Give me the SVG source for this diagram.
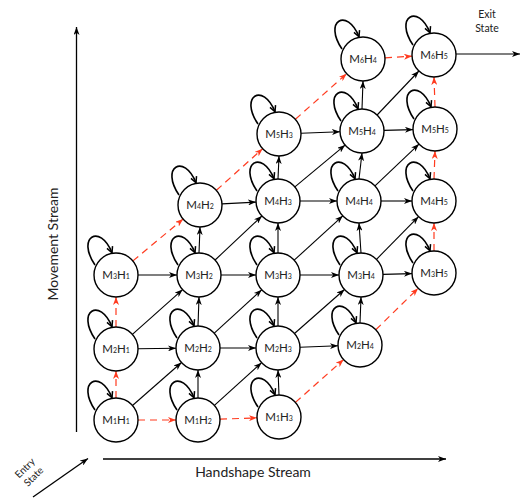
<svg xmlns="http://www.w3.org/2000/svg" width="523" height="498" viewBox="0 0 523 498">
  <style>
    .node circle { fill: #fff; stroke: #000; stroke-width: 1.4; }
    .node text { font-family: Lato, "Liberation Sans", sans-serif; font-size: 11.5px; fill: #222; text-anchor: middle; }
    .node .s { font-size: 7px; }
    .loop { fill: none; stroke: #000; stroke-width: 1.6; marker-end: url(#loopHead); }
    .e { fill: none; stroke: #000; stroke-width: 1.1; marker-end: url(#head); }
    .r { fill: none; stroke: #ff3b1f; stroke-width: 1.2; stroke-dasharray: 7 5; marker-end: url(#headRed); }
    .axis { fill: none; stroke: #000; stroke-width: 1.3; marker-end: url(#head); }
    .lbl { font-family: Lato, "Liberation Sans", sans-serif; fill: #222; text-anchor: middle; }
  </style>
  <defs>
    <marker id="head" viewBox="0 0 8 6" refX="8" refY="3" markerWidth="8" markerHeight="6" markerUnits="userSpaceOnUse" orient="auto">
      <path d="M0,0 L8,3 L0,6 L2.2,3 z" fill="#000"/>
    </marker>
    <marker id="headRed" viewBox="0 0 8 6" refX="8" refY="3" markerWidth="8" markerHeight="6" markerUnits="userSpaceOnUse" orient="auto">
      <path d="M0,0 L8,3 L0,6 L2.2,3 z" fill="#ff3b1f"/>
    </marker>
    <marker id="loopHead" viewBox="0 0 8 8" refX="7" refY="4" markerWidth="8" markerHeight="8" markerUnits="userSpaceOnUse" orient="auto">
      <path d="M1,1 L7,4 L1,7" fill="none" stroke="#000" stroke-width="1.5"/>
    </marker>
  </defs>

  <!-- axes -->
  <g id="axes">
    <path class="axis" d="M76.5,432 L76.5,27"/>
    <path class="axis" d="M103,459 L446,459"/>
    <path class="axis" d="M33,497 L88,458.5"/>
    <text class="lbl" font-size="14" transform="translate(58,244) rotate(-90)">Movement Stream</text>
    <text class="lbl" font-size="14" x="253" y="477">Handshape Stream</text>
    <g transform="translate(29.2,472.3) rotate(-45)">
      <text class="lbl" font-size="10" x="0" y="-2.5">Entry</text>
      <text class="lbl" font-size="10" x="0" y="9.5">State</text>
    </g>
    <text class="lbl" font-size="10.5" x="487" y="18.3">Exit</text>
    <text class="lbl" font-size="10.5" x="487" y="32.3">State</text>
  </g>

  <!-- transitions -->
  <g id="connectors">
    <!-- horizontal -->
    <path class="e" d="M138,348.7 L176,348.3"/>
    <path class="e" d="M220,348 L256,348"/>
    <path class="e" d="M300,347.2 L338,345.8"/>
    <path class="e" d="M138,275 L177,275"/>
    <path class="e" d="M221,275 L256,275"/>
    <path class="e" d="M300,275 L339,275"/>
    <path class="e" d="M383,274.4 L412,273.6"/>
    <path class="e" d="M222,203.9 L256,202.1"/>
    <path class="e" d="M300,201 L337,201"/>
    <path class="e" d="M381,201 L412,201"/>
    <path class="e" d="M301,133.2 L340,131.8"/>
    <path class="e" d="M384,130.4 L413,129.6"/>
    <path class="e" d="M456,54 L520,54"/>
    <!-- vertical -->
    <path class="e" d="M198,398 L198,370"/>
    <path class="e" d="M279,395 L278,370"/>
    <path class="e" d="M198,326 L199,297"/>
    <path class="e" d="M278,326 L278,297"/>
    <path class="e" d="M360,323 L361,297"/>
    <path class="e" d="M199,253 L200,227"/>
    <path class="e" d="M278,253 L278,223"/>
    <path class="e" d="M361,253 L359,223"/>
    <path class="e" d="M278,179 L279,156"/>
    <path class="e" d="M359,179 L362,153"/>
    <path class="e" d="M362,109 L363,81"/>
    <!-- diagonal -->
    <path class="e" d="M132.5,405.5 L181.5,362.5"/>
    <path class="e" d="M214.4,405.3 L261.6,362.7"/>
    <path class="e" d="M132.4,334.4 L182.6,289.6"/>
    <path class="e" d="M214.3,333.2 L261.7,289.8"/>
    <path class="e" d="M294.5,333.5 L344.5,289.5"/>
    <path class="e" d="M215.1,260 L261.9,216"/>
    <path class="e" d="M294.2,260.2 L342.8,215.8"/>
    <path class="e" d="M376.5,259.3 L418.5,216.7"/>
    <path class="e" d="M294.9,186.9 L345.1,145.1"/>
    <path class="e" d="M375,185.9 L419,144.1"/>
    <path class="e" d="M377.1,115 L418.9,71"/>
    <!-- boundary path (dashed) -->
    <path class="r" d="M138,420 L176,420"/>
    <path class="r" d="M220,419.2 L257,417.8"/>
    <path class="r" d="M295.4,402.4 L343.6,359.6"/>
    <path class="r" d="M375.8,329.7 L418.2,288.3"/>
    <path class="r" d="M434,251 L434,223"/>
    <path class="r" d="M434,179 L435,151"/>
    <path class="r" d="M435,107 L434,77"/>
    <path class="r" d="M116,398 L116,371"/>
    <path class="r" d="M116,327 L116,297"/>
    <path class="r" d="M132.9,260.9 L183.1,219.1"/>
    <path class="r" d="M216.4,190.3 L262.6,148.7"/>
    <path class="r" d="M295.4,119.3 L346.6,73.7"/>
    <path class="r" d="M385,57.8 L412,56.2"/>
  </g>

  <!-- states; each carries its own self-transition loop -->
  <defs>
    <path id="selfLoop" class="loop" d="M-21,-10 C-40,-38 -16,-52 -4,-22.2"/>
  </defs>
  <g id="M1H1" class="node" transform="translate(116,420)"><use href="#selfLoop"/><circle r="22"/><text y="4">M<tspan class="s">1</tspan>H<tspan class="s">1</tspan></text></g>
  <g id="M1H2" class="node" transform="translate(198,420)"><use href="#selfLoop"/><circle r="22"/><text y="4">M<tspan class="s">1</tspan>H<tspan class="s">2</tspan></text></g>
  <g id="M1H3" class="node" transform="translate(279,417)"><use href="#selfLoop"/><circle r="22"/><text y="4">M<tspan class="s">1</tspan>H<tspan class="s">3</tspan></text></g>

  <g id="M2H1" class="node" transform="translate(116,349)"><use href="#selfLoop"/><circle r="22"/><text y="4">M<tspan class="s">2</tspan>H<tspan class="s">1</tspan></text></g>
  <g id="M2H2" class="node" transform="translate(198,348)"><use href="#selfLoop"/><circle r="22"/><text y="4">M<tspan class="s">2</tspan>H<tspan class="s">2</tspan></text></g>
  <g id="M2H3" class="node" transform="translate(278,348)"><use href="#selfLoop"/><circle r="22"/><text y="4">M<tspan class="s">2</tspan>H<tspan class="s">3</tspan></text></g>
  <g id="M2H4" class="node" transform="translate(360,345)"><use href="#selfLoop"/><circle r="22"/><text y="4">M<tspan class="s">2</tspan>H<tspan class="s">4</tspan></text></g>

  <g id="M3H1" class="node" transform="translate(116,275)"><use href="#selfLoop"/><circle r="22"/><text y="4">M<tspan class="s">3</tspan>H<tspan class="s">1</tspan></text></g>
  <g id="M3H2" class="node" transform="translate(199,275)"><use href="#selfLoop"/><circle r="22"/><text y="4">M<tspan class="s">3</tspan>H<tspan class="s">2</tspan></text></g>
  <g id="M3H3" class="node" transform="translate(278,275)"><use href="#selfLoop"/><circle r="22"/><text y="4">M<tspan class="s">3</tspan>H<tspan class="s">3</tspan></text></g>
  <g id="M3H4" class="node" transform="translate(361,275)"><use href="#selfLoop"/><circle r="22"/><text y="4">M<tspan class="s">3</tspan>H<tspan class="s">4</tspan></text></g>
  <g id="M3H5" class="node" transform="translate(434,273)"><use href="#selfLoop"/><circle r="22"/><text y="4">M<tspan class="s">3</tspan>H<tspan class="s">5</tspan></text></g>

  <g id="M4H2" class="node" transform="translate(200,205)"><use href="#selfLoop"/><circle r="22"/><text y="4">M<tspan class="s">4</tspan>H<tspan class="s">2</tspan></text></g>
  <g id="M4H3" class="node" transform="translate(278,201)"><use href="#selfLoop"/><circle r="22"/><text y="4">M<tspan class="s">4</tspan>H<tspan class="s">3</tspan></text></g>
  <g id="M4H4" class="node" transform="translate(359,201)"><use href="#selfLoop"/><circle r="22"/><text y="4">M<tspan class="s">4</tspan>H<tspan class="s">4</tspan></text></g>
  <g id="M4H5" class="node" transform="translate(434,201)"><use href="#selfLoop"/><circle r="22"/><text y="4">M<tspan class="s">4</tspan>H<tspan class="s">5</tspan></text></g>

  <g id="M5H3" class="node" transform="translate(279,134)"><use href="#selfLoop"/><circle r="22"/><text y="4">M<tspan class="s">5</tspan>H<tspan class="s">3</tspan></text></g>
  <g id="M5H4" class="node" transform="translate(362,131)"><use href="#selfLoop"/><circle r="22"/><text y="4">M<tspan class="s">5</tspan>H<tspan class="s">4</tspan></text></g>
  <g id="M5H5" class="node" transform="translate(435,129)"><use href="#selfLoop"/><circle r="22"/><text y="4">M<tspan class="s">5</tspan>H<tspan class="s">5</tspan></text></g>

  <g id="M6H4" class="node" transform="translate(363,59)"><use href="#selfLoop"/><circle r="22"/><text y="4">M<tspan class="s">6</tspan>H<tspan class="s">4</tspan></text></g>
  <g id="M6H5" class="node" transform="translate(434,55)"><use href="#selfLoop"/><circle r="22"/><text y="4">M<tspan class="s">6</tspan>H<tspan class="s">5</tspan></text></g>
</svg>
